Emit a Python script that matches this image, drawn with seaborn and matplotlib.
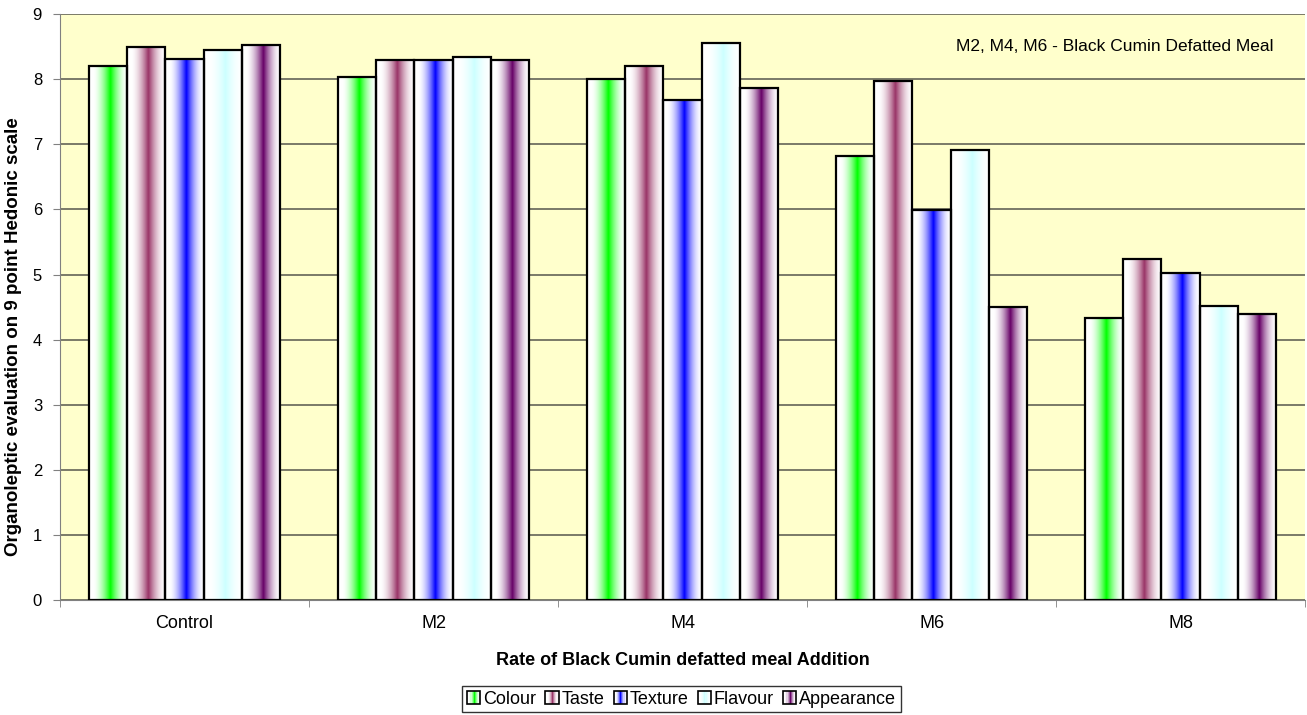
import numpy as np
import pandas as pd
import matplotlib
matplotlib.use("Agg")
import matplotlib.pyplot as plt
import matplotlib.colors as mcolors
from matplotlib.patches import Patch, Rectangle
from matplotlib.legend_handler import HandlerBase
from matplotlib.ticker import FixedLocator
import seaborn as sns

sns.set_style("ticks")
plt.rcParams['font.family'] = ['Liberation Sans', 'DejaVu Sans']
plt.rcParams['text.color'] = 'black'
plt.rcParams['axes.labelcolor'] = 'black'

treatments = ['Control', 'M2', 'M4', 'M6', 'M8']
attributes = ['Colour', 'Taste', 'Texture', 'Flavour', 'Appearance']
colour = [8.21, 8.04, 8.00, 6.82, 4.34]
taste = [8.49, 8.30, 8.21, 7.98, 5.24]
texture = [8.31, 8.29, 7.69, 5.99, 5.02]
flavour = [8.45, 8.35, 8.56, 6.91, 4.51]
appearance = [8.53, 8.30, 7.87, 4.50, 4.40]
bar_colors = ['#00FF00', '#993366', '#0000FF', '#CCFFFF', '#660066']

series = [colour, taste, texture, flavour, appearance]
df = pd.DataFrame({
    'treatment': treatments * len(attributes),
    'attribute': np.repeat(attributes, len(treatments)),
    'score': np.concatenate(series),
})

# white -> colour -> white horizontal profile, like the excel fill
t = np.linspace(0, 1, 200)
prof = np.clip(1 - np.abs(t - 0.55) / 0.45, 0, 1) ** 1.8


def gradient(c, prof):
    rgb = np.array(mcolors.to_rgb(c))
    return 1 - prof[:, None] * (1 - rgb[None, :])


class GradHandler(HandlerBase):
    def create_artists(self, legend, orig_handle, xdescent, ydescent, width, height, fontsize, trans):
        c = orig_handle.get_facecolor()
        n = 12
        tt = np.linspace(0, 1, n)
        pp = np.clip(1 - np.abs(tt - 0.55) / 0.45, 0, 1) ** 1.8
        cols = gradient(c, pp)
        side = height
        x0 = -xdescent + (width - side) / 2
        y0 = -ydescent
        arts = []
        for k in range(n):
            r = Rectangle((x0 + k * side / n, y0), side / n + 0.05, side,
                          facecolor=cols[k], edgecolor='none', transform=trans)
            arts.append(r)
        arts.append(Rectangle((x0, y0), side, side, facecolor='none',
                              edgecolor='black', linewidth=1.2, transform=trans))
        return arts


fig = plt.figure(figsize=(13.07, 7.15), dpi=100)
ax = fig.add_axes([0.046, 0.161, 0.9525, 0.819])
ax.set_facecolor('#FFFFCC')

sns.barplot(data=df, x='treatment', y='score', hue='attribute', order=treatments,
            hue_order=attributes, palette=bar_colors, width=0.77, gap=0,
            edgecolor='black', linewidth=1.6, ax=ax, legend=False, zorder=3)

for i, bars in enumerate(ax.containers):
    img = gradient(bar_colors[i], prof)[None, :, :]
    for p in bars:
        x0, y0 = p.get_x(), p.get_y()
        w, h = p.get_width(), p.get_height()
        p.set_facecolor('none')
        im = ax.imshow(img, extent=[x0, x0 + w, y0, y0 + h], aspect='auto',
                       origin='lower', zorder=2.5, interpolation='bilinear')
        im.set_clip_path(p)

ax.set_xlim(-0.5, 4.5)
ax.set_ylim(0, 9)
ax.set_yticks(range(10))
ax.yaxis.grid(True, color='#707060', linewidth=1.3, zorder=0)
ax.set_axisbelow(True)
ax.xaxis.set_minor_locator(FixedLocator(np.arange(-0.5, 5, 1)))
ax.tick_params(axis='x', which='major', length=0, pad=11, labelsize=13, labelcolor='black')
ax.tick_params(axis='x', which='minor', length=5, color='#808080')
ax.tick_params(axis='y', length=5, color='#808080', labelsize=12, pad=8, labelcolor='black')
for s in ['top', 'right']:
    ax.spines[s].set_visible(False)
for s in ['left', 'bottom']:
    ax.spines[s].set_color('#808080')

ax.set_xlabel('Rate of Black Cumin defatted meal Addition', fontsize=13,
              fontweight='bold', labelpad=14)
ax.set_ylabel('Organoleptic evaluation on 9 point Hedonic scale', fontsize=13.5,
              fontweight='bold')
ax.yaxis.set_label_coords(-0.0305, 0.45)

ax.text(0.975, 0.945, 'M2, M4, M6 - Black Cumin Defatted Meal', transform=ax.transAxes,
        ha='right', va='center', fontsize=12.5)

handles = [Patch(facecolor=c, edgecolor='black') for c in bar_colors]
leg = fig.legend(handles, attributes, loc='lower center', bbox_to_anchor=(0.5215, 0.0),
                 ncol=5, frameon=True, fancybox=False, edgecolor='black',
                 fontsize=13, handlelength=0.75, handleheight=0.75,
                 handletextpad=0.15, columnspacing=0.5, borderpad=0.25,
                 borderaxespad=0.15, handler_map={Patch: GradHandler()})
leg.get_frame().set_linewidth(1)

fig.savefig('out.png', dpi=100)
